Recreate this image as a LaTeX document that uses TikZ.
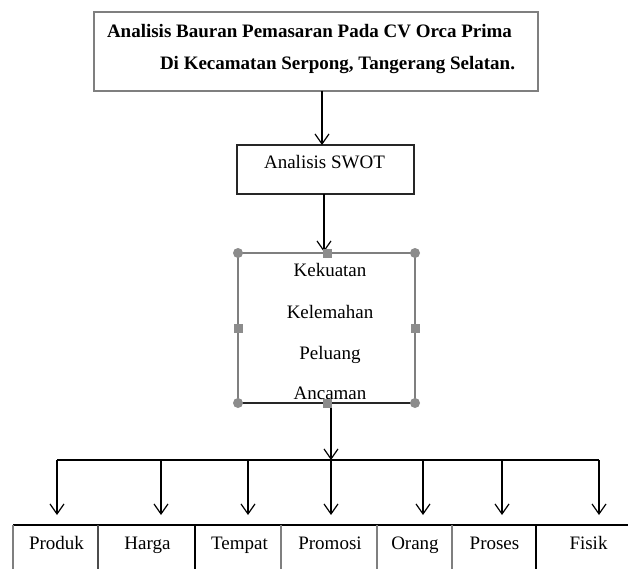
\documentclass[tikz,border=0pt]{standalone}
\usepackage{fontspec}
\setmainfont{Liberation Serif}
\usetikzlibrary{arrows.meta,calc}
\definecolor{boxgrey}{HTML}{7F7F7F}
\definecolor{handlegrey}{HTML}{8C8C8C}
\begin{document}
\begin{tikzpicture}[x=1pt,y=-1pt,
  txt/.style={font=\fontsize{19}{22}\selectfont, inner sep=0pt, outer sep=0pt},
  frame/.style={draw, line width=1.2pt, inner sep=0pt, outer sep=0pt, rectangle},
  arr/.style={line width=1.2pt, -{Straight Barb[length=10pt,width=14pt,line width=1.2pt]}},
  cellline/.style={line width=1.2pt},
  handle/.style={fill=handlegrey, draw=none}]
\useasboundingbox (0,0) rectangle (628,569);

% top box
\node[frame, draw=boxgrey, minimum width=444pt, minimum height=79pt] (top) at (316,51.5) {};
\node[txt, anchor=base west, font=\fontsize{19}{22}\selectfont\bfseries] (t1) at (107,37.5) {Analisis Bauran Pemasaran Pada CV Orca Prima};
\node[txt, anchor=base west, font=\fontsize{19}{22}\selectfont\bfseries] (t2) at (160,70) {Di Kecamatan Serpong, Tangerang Selatan.};

% SWOT box
\node[frame, draw=black!85, minimum width=177pt, minimum height=49pt] (swot) at (325.5,169.5) {};
\node[txt, anchor=base] (swott) at (324.5,169) {Analisis SWOT};

% SWOT detail box
\node[frame, draw=boxgrey, minimum width=177pt, minimum height=150pt] (det) at (326.5,328) {};
\draw[line width=1.2pt, black!85] (det.south west) -- (det.south east);
\node[txt, anchor=base] (k1) at (330,276) {Kekuatan};
\node[txt, anchor=base] (k2) at (330,318) {Kelemahan};
\node[txt, anchor=base] (k3) at (330,359) {Peluang};
\node[txt, anchor=base] (k4) at (330,399) {Ancaman};

% connectors top
\coordinate (x1) at (322,0);
\coordinate (x2) at (324,0);
\coordinate (xm) at (331,0);
\draw[arr] (top.south -| x1) -- (swot.north -| x1);
\draw[arr] (swot.south -| x2) -- ($(det.north -| x2)+(0,-1)$);

% bus
\coordinate (busL) at (57,460);
\coordinate (busR) at (599,460);
\draw[line width=1.2pt] (busL) -- (busR);
\draw[arr] (det.south -| xm) -- (busL -| xm);

% handles on detail box
\foreach \p in {det.north west, det.north east, det.south west, det.south east}
  \fill[handle] (\p) circle (5pt);
\foreach \p in {det.west, det.east}
  \fill[handle] ($(\p)+(-4.5,-4.5)$) rectangle ($(\p)+(4.5,4.5)$);
\coordinate (hq) at (327,0);
\fill[handle] ($(det.north -| hq)+(-4.5,-4.5)$) rectangle ($(det.north -| hq)+(4.5,4.5)$);
\fill[handle] ($(det.south -| hq)+(-4.5,-4.5)$) rectangle ($(det.south -| hq)+(4.5,4.5)$);

% bottom labels
\node[txt, anchor=base] (produk) at (56.5,549) {Produk};
\node[txt, anchor=base] (harga) at (147.5,549) {Harga};
\node[txt, anchor=base] (tempat) at (239.5,549) {Tempat};
\node[txt, anchor=base] (promosi) at (330,549) {Promosi};
\node[txt, anchor=base] (orang) at (415,549) {Orang};
\node[txt, anchor=base] (proses) at (494.5,549) {Proses};
\node[txt, anchor=base] (fisik) at (588.5,549) {Fisik};

% arrows to labels
\foreach \x/\n in {57/a, 161/b, 248/c, 331/d, 423/e, 502/f, 599/g} {
  \coordinate (s\n) at (\x,460);
  \coordinate (e\n) at (\x,515);
  \draw[arr] (s\n) -- (e\n);
}

% cells
\coordinate (cellL) at (13,525);
\coordinate (cellR) at (628,525);
\draw[cellline] (cellL) -- (cellR);
\foreach \x/\c in {13/boxgrey, 98/black!70, 195/black, 281/boxgrey, 377/boxgrey, 452/boxgrey, 536/black} {
  \coordinate (ct) at (\x,525);
  \coordinate (cb) at (\x,569);
  \draw[cellline, draw=\c] (ct) -- (cb);
}
\end{tikzpicture}
\end{document}
